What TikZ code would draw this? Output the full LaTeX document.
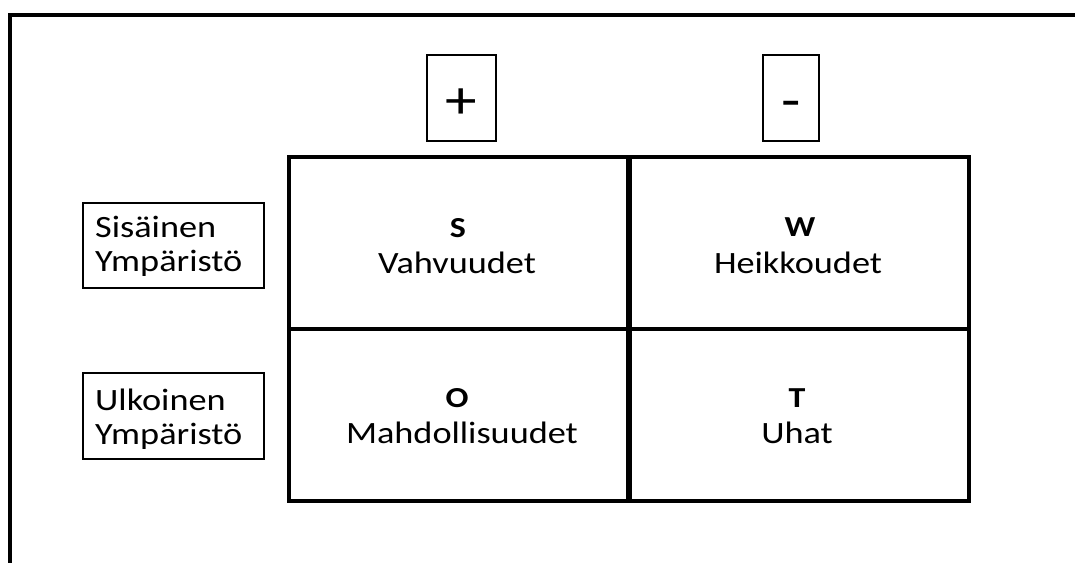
\documentclass[tikz,border=0pt]{standalone}
\usepackage{fontspec}
\setmainfont{Carlito}[FakeStretch=1.17]
\begin{document}
\begin{tikzpicture}[x=1pt,y=-1pt,
  heavy/.style={line width=4pt},
  thin box/.style={draw, line width=1.6pt, inner sep=0pt},
  cell/.style={draw, line width=4pt, inner sep=0pt, minimum width=341pt, minimum height=172pt},
  body/.style={font=\fontsize{31}{35}\selectfont, inner sep=0pt},
  letter/.style={font=\fontsize{29}{33}\selectfont\bfseries, inner sep=0pt},
  sign/.style={font=\fontsize{54}{60}\selectfont, inner sep=0pt}]
\useasboundingbox (0,0) rectangle (1075,562);

% page frame: top and left edges
\coordinate (fTL) at (10,15);
\coordinate (fTR) at (1075,15);
\coordinate (fBL) at (10,562);
\draw[heavy, line cap=rect] (fTR) -- (fTL) -- (fBL);

% the four quadrants
\node[cell] (cS) at (459.5,243) {};
\node[cell] (cW) at (798,243) {};
\node[cell] (cO) at (459.5,415) {};
\node[cell] (cT) at (798,415) {};

% column headers
\node[thin box, minimum width=69pt, minimum height=86pt] (plus) at (461.5,98) {};
\node[sign, anchor=base] (plusT) at (461,118) {+};
\node[thin box, minimum width=56pt, minimum height=86pt] (minus) at (791,98) {};
\node[sign, anchor=base] (minusT) at (791,118) {-};

% row headers
\node[thin box, minimum width=181pt, minimum height=85pt] (inner) at (173.5,245.5) {};
\node[body, anchor=base west] (inner1) at (95,237) {Sisäinen};
\node[body, anchor=base west] (inner2) at (95,271) {Ympäristö};
\node[thin box, minimum width=181pt, minimum height=86pt] (outer) at (173.5,416) {};
\node[body, anchor=base west] (outer1) at (95,410) {Ulkoinen};
\node[body, anchor=base west] (outer2) at (95,444) {Ympäristö};

% quadrant labels
\node[letter, anchor=base] (lS) at (458,237) {S};
\node[body, anchor=base] (tS) at (457,273) {Vahvuudet};
\node[letter, anchor=base] (lW) at (800,236) {W};
\node[body, anchor=base] (tW) at (798,273) {Heikkoudet};
\node[letter, anchor=base] (lO) at (457,407) {O};
\node[body, anchor=base] (tO) at (462,443) {Mahdollisuudet};
\node[letter, anchor=base] (lT) at (797,407) {T};
\node[body, anchor=base] (tT) at (797,443) {Uhat};
\end{tikzpicture}
\end{document}
